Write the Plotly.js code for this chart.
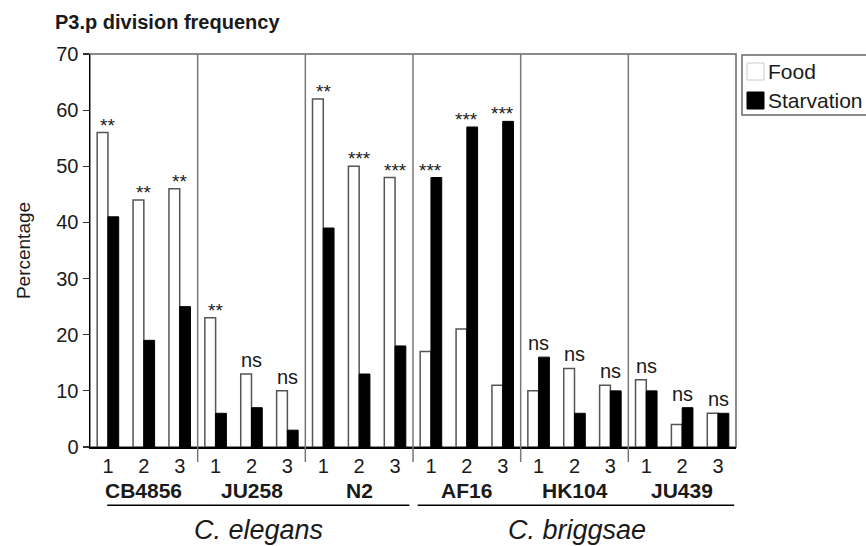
<!DOCTYPE html>
<html>
<head>
<meta charset="utf-8">
<script src="https://cdn.plot.ly/plotly-3.0.1.min.js"></script>
<style>html,body{margin:0;padding:0;background:#fff;}#chart{width:866px;height:546px;}</style>
</head>
<body>
<div id="chart"></div>
<script>
// ---- data ----
var strains = ["CB4856", "JU258", "N2", "AF16", "HK104", "JU439"];
var species = ["C. elegans", "C. briggsae"];
var speciesStrainCount = [3, 3];
var replicates = ["1", "2", "3"];
var food = [56, 44, 46, 23, 13, 10, 62, 50, 48, 17, 21, 11, 10, 14, 11, 12, 4, 6];
var starvation = [41, 19, 25, 6, 7, 3, 39, 13, 18, 48, 57, 58, 16, 6, 10, 10, 7, 6];
var significance = ["**", "**", "**", "**", "ns", "ns", "**", "***", "***",
                    "***", "***", "***", "ns", "ns", "ns", "ns", "ns", "ns"];
var seriesNames = ["Food", "Starvation"];
var yTicks = [0, 10, 20, 30, 40, 50, 60, 70];

// ---- build categories ----
var cats = [], tickText = [];
strains.forEach(function (s) {
  replicates.forEach(function (r) { cats.push(s + " " + r); tickText.push(r); });
});

var FONT = "Liberation Sans, Arial, Helvetica, sans-serif";
var TXT = "#1a1a1a";

var traces = [
  { type: "bar", name: seriesNames[0], x: cats, y: food,
    marker: { color: "#ffffff", line: { color: "#555", width: 1.5 } }, showlegend: false },
  { type: "bar", name: seriesNames[1], x: cats, y: starvation,
    marker: { color: "#000000", line: { color: "#000", width: 1 } }, showlegend: false }
];

var shapes = [];
var annotations = [];

// frame (top and right border)
shapes.push({ type: "rect", xref: "paper", yref: "paper", x0: 0, x1: 1, y0: 0, y1: 1,
  line: { color: "#666", width: 1.5 }, layer: "below" });

// group dividers
var nRep = replicates.length;
for (var g = 1; g < strains.length; g++) {
  var xd = g * nRep - 0.5;
  shapes.push({ type: "line", xref: "x", yref: "paper", x0: xd, x1: xd, y0: -0.038, y1: 1,
    line: { color: "#777", width: 1.5 } });
}

// strain labels
strains.forEach(function (s, i) {
  annotations.push({ xref: "x", yref: "paper", x: i * nRep + (nRep - 1) / 2, y: -0.11,
    text: "<b>" + s + "</b>", showarrow: false, yanchor: "middle",
    font: { family: FONT, size: 21, color: TXT } });
});

// species lines and labels
var startStrain = 0;
species.forEach(function (sp, i) {
  var n = speciesStrainCount[i];
  var c0 = startStrain * nRep, c1 = (startStrain + n) * nRep - 1;
  var x0 = c0 - 0.02 + (i === 1 ? -0.35 : 0), x1 = c1 + 0.45 + (i === 0 ? -0.05 : 0);
  shapes.push({ type: "line", xref: "x", yref: "paper", x0: x0, x1: x1, y0: -0.148, y1: -0.148,
    line: { color: "#000", width: 1.5 } });
  annotations.push({ xref: "x", yref: "paper", x: (c0 + c1) / 2 + (i === 1 ? 0.08 : 0.2), y: -0.212,
    text: "<i>" + sp + "</i>", showarrow: false, yanchor: "middle",
    font: { family: FONT, size: 27, color: TXT } });
  startStrain += n;
});

// significance labels
cats.forEach(function (c, i) {
  var sig = significance[i];
  var isNs = sig === "ns";
  annotations.push({ xref: "x", yref: "y", x: i, y: Math.max(food[i], starvation[i]),
    text: sig, showarrow: false, yanchor: "bottom",
    yshift: isNs ? 1 : -5,
    font: { family: FONT, size: isNs ? 20 : 19, color: TXT } });
});

// legend (drawn manually)
var pw = 646, ph = 393;
function px2x(p) { return (p - 90) / pw; }
function py2y(p) { return (447 - p) / ph; }
shapes.push({ type: "rect", xref: "paper", yref: "paper",
  x0: px2x(742), x1: px2x(880), y0: py2y(115), y1: py2y(55),
  line: { color: "#666", width: 1.5 }, fillcolor: "#fff" });
shapes.push({ type: "rect", xref: "paper", yref: "paper",
  x0: px2x(747), x1: px2x(764), y0: py2y(80), y1: py2y(63),
  line: { color: "#ccc", width: 1 }, fillcolor: "#fff" });
shapes.push({ type: "rect", xref: "paper", yref: "paper",
  x0: px2x(747), x1: px2x(764), y0: py2y(109), y1: py2y(92),
  line: { color: "#000", width: 1 }, fillcolor: "#000" });
annotations.push({ xref: "paper", yref: "paper", x: px2x(766), y: py2y(72), xanchor: "left",
  yanchor: "middle", showarrow: false, text: seriesNames[0],
  font: { family: FONT, size: 21, color: TXT } });
annotations.push({ xref: "paper", yref: "paper", x: px2x(766), y: py2y(100), xanchor: "left",
  yanchor: "middle", showarrow: false, text: seriesNames[1],
  font: { family: FONT, size: 21, color: TXT } });

var layout = {
  width: 866, height: 546,
  margin: { l: 90, r: 130, t: 54, b: 99, pad: 0 },
  paper_bgcolor: "#fff", plot_bgcolor: "#fff",
  font: { family: FONT, color: TXT },
  title: { text: "<b>P3.p division frequency</b>", xref: "container", yref: "container",
    x: 55 / 866, xanchor: "left", y: 1 - 22 / 546, yanchor: "middle",
    font: { family: FONT, size: 20, color: TXT } },
  barmode: "group", bargap: 0.4, bargroupgap: 0,
  showlegend: false,
  xaxis: { type: "category", categoryorder: "array", categoryarray: cats,
    tickmode: "array", tickvals: cats, ticktext: tickText,
    tickfont: { family: FONT, size: 20, color: TXT },
    ticks: "", showline: true, linecolor: "#000", linewidth: 1.5,
    showgrid: false, zeroline: false, range: [-0.5, cats.length - 0.5], fixedrange: true },
  yaxis: { range: [0, 70], tickmode: "array", tickvals: yTicks,
    ticks: "outside", ticklen: 6, tickwidth: 1.2, tickcolor: "#333",
    tickfont: { family: FONT, size: 20, color: TXT },
    showline: true, linecolor: "#000", linewidth: 1.5, showgrid: false, zeroline: false,
    title: { text: "Percentage", standoff: 20, font: { family: FONT, size: 19, color: TXT } },
    fixedrange: true },
  shapes: shapes,
  annotations: annotations
};

Plotly.newPlot("chart", traces, layout, { displayModeBar: false, staticPlot: true });
</script>
</body>
</html>
